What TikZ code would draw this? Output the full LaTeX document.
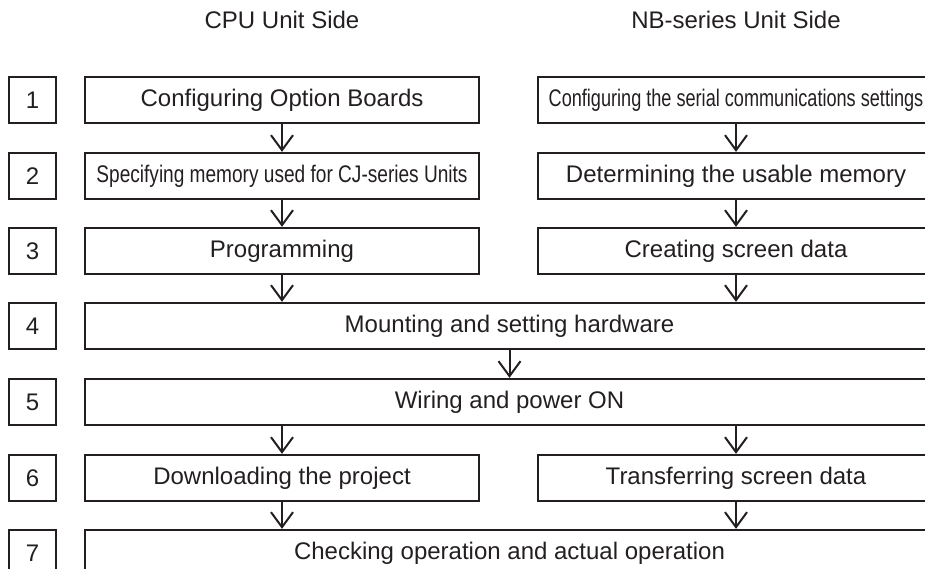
\documentclass[tikz,border=0pt]{standalone}
\usepackage{fontspec}
\setmainfont{Liberation Sans}
\usetikzlibrary{arrows.meta}
\definecolor{ink}{RGB}{35,31,32}
\begin{document}
\begin{tikzpicture}[x=1pt,y=-1pt,
  txt/.style={font=\fontsize{24}{28}\selectfont, text=ink},
  box/.style={txt, draw=ink, line width=2.3pt, minimum height=46pt, inner sep=0pt},
  numbox/.style={box, minimum width=47pt},
  leftbox/.style={box, minimum width=394pt},
  rightbox/.style={box, minimum width=396pt},
  fullbox/.style={box, minimum width=849pt},
  arr/.style={draw=ink, line width=2pt, -{Straight Barb[length=15pt,width=22pt]}}
]
\useasboundingbox (0,0) rectangle (925,569);
\clip (0,0) rectangle (925,569);

\node[txt] (h1) at (282,20) {CPU Unit Side};
\node[txt] (h2) at (736,20) {NB-series Unit Side};

\foreach \n/\y in {1/100,2/176,3/251,4/326,5/402,6/478,7/553}
  \node[numbox] (n\n) at (32.5,\y) {\n};

\node[leftbox] (L1) at (282,100) {Configuring Option Boards};
\node[rightbox] (R1) at (736,100) {\scalebox{0.755}[1]{Configuring the serial communications settings}};
\node[leftbox] (L2) at (282,176) {\scalebox{0.795}[1]{Specifying memory used for CJ-series Units}};
\node[rightbox] (R2) at (736,176) {Determining the usable memory};
\node[leftbox] (L3) at (282,251) {Programming};
\node[rightbox] (R3) at (736,251) {Creating screen data};
\node[fullbox] (F4) at (509.5,326) {Mounting and setting hardware};
\node[fullbox] (F5) at (509.5,402) {Wiring and power ON};
\node[leftbox] (L6) at (282,478) {Downloading the project};
\node[rightbox] (R6) at (736,478) {Transferring screen data};
\node[fullbox] (F7) at (509.5,553) {Checking operation and actual operation};

\draw[arr] (L1.south) -- (L2.north);
\draw[arr] (R1.south) -- (R2.north);
\draw[arr] (L2.south) -- (L3.north);
\draw[arr] (R2.south) -- (R3.north);
\draw[arr] (L3.south) -- (L3.south |- F4.north);
\draw[arr] (R3.south) -- (R3.south |- F4.north);
\draw[arr] (F4.south) -- (F5.north);
\draw[arr] (L6.north |- F5.south) -- (L6.north);
\draw[arr] (R6.north |- F5.south) -- (R6.north);
\draw[arr] (L6.south) -- (L6.south |- F7.north);
\draw[arr] (R6.south) -- (R6.south |- F7.north);
\end{tikzpicture}
\end{document}
